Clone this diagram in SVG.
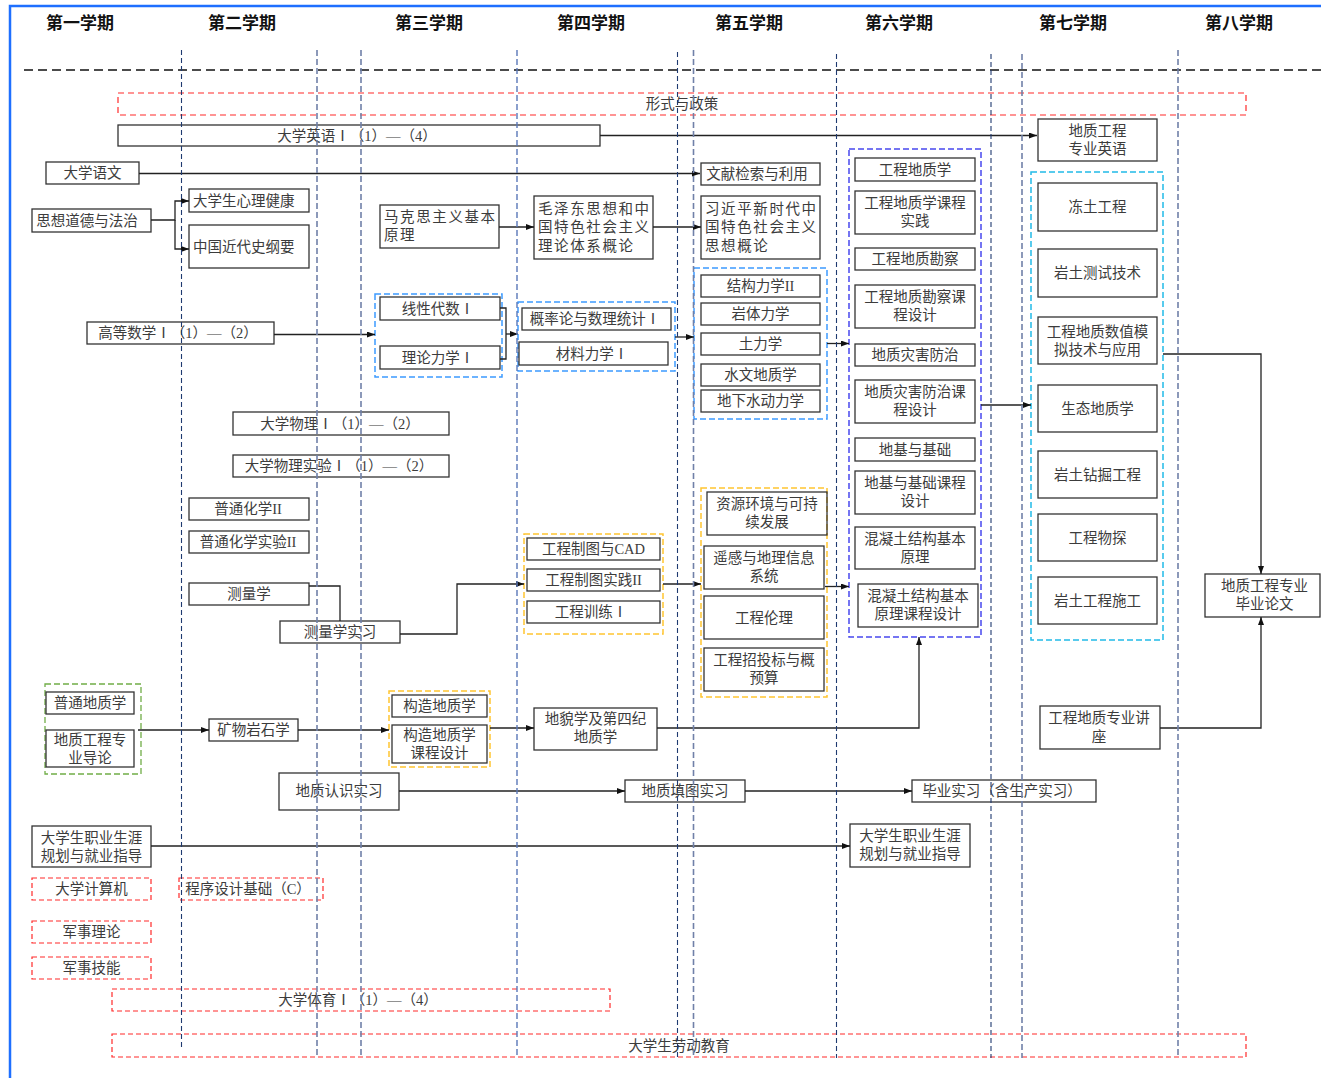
<svg xmlns="http://www.w3.org/2000/svg" width="1321" height="1078" viewBox="0 0 1321 1078">
<defs>
<marker id="arr" markerWidth="8" markerHeight="6" refX="8" refY="3" orient="auto" markerUnits="userSpaceOnUse">
<path d="M0,0 L8,3 L0,6 z" fill="#111"/>
</marker>
<style>
.box{fill:none;stroke:#333;stroke-width:1.3}
.red{fill:none;stroke:#ff2a2a;stroke-width:1.2;stroke-dasharray:5,3}
.gb{fill:none;stroke:#3d9bff;stroke-width:1.5;stroke-dasharray:6,3}
.gp{fill:none;stroke:#4848ee;stroke-width:1.5;stroke-dasharray:6,3}
.gc{fill:none;stroke:#22bbe8;stroke-width:1.5;stroke-dasharray:6,3}
.gy{fill:none;stroke:#ffc530;stroke-width:1.5;stroke-dasharray:6,3}
.gg{fill:none;stroke:#70ad47;stroke-width:1.3;stroke-dasharray:6,3}
.t{font-family:"Liberation Serif","Noto Sans CJK SC",serif;font-size:14.5px;fill:#3c3c3c;text-anchor:middle;dominant-baseline:central}
.ts{font-family:"Liberation Serif","Noto Sans CJK SC",serif;font-size:14.5px;fill:#3c3c3c;text-anchor:start;dominant-baseline:central}
.tj{font-family:"Liberation Serif","Noto Sans CJK SC",serif;font-size:14.5px;fill:#3c3c3c;text-anchor:start;dominant-baseline:central;letter-spacing:1.6px}
.hdr{font-family:"Noto Sans CJK SC",sans-serif;font-size:17px;font-weight:bold;fill:#111;text-anchor:middle;dominant-baseline:central}
.c{fill:none;stroke:#222;stroke-width:1.3}
.ca{fill:none;stroke:#222;stroke-width:1.3;marker-end:url(#arr)}
.vn{stroke:#1f3a70;stroke-width:1.1;stroke-dasharray:5,3}
.vg{stroke:#7080a8;stroke-width:1.6;stroke-dasharray:6,3}
.vb{stroke:#5a78b8;stroke-width:1.4;stroke-dasharray:6,3}
</style>
</defs>
<rect x="0" y="0" width="1321" height="1078" fill="#fff"/>
<!-- frame -->
<path d="M10,1078 V6 H1321" fill="none" stroke="#1e6fff" stroke-width="2.5"/>
<!-- headers -->
<g id="headers">
<text class="hdr" x="80" y="21">第一学期</text>
<text class="hdr" x="242" y="21">第二学期</text>
<text class="hdr" x="429" y="21">第三学期</text>
<text class="hdr" x="591" y="21">第四学期</text>
<text class="hdr" x="749" y="21">第五学期</text>
<text class="hdr" x="899" y="21">第六学期</text>
<text class="hdr" x="1073" y="21">第七学期</text>
<text class="hdr" x="1239" y="21">第八学期</text>
</g>
<line x1="24" y1="70" x2="1321" y2="70" stroke="#111" stroke-width="1.3" stroke-dasharray="9,5"/>

<!-- groups (dashed frames) -->
<g id="g_xiandai"><rect class="gb" x="375" y="294" width="127" height="83"/></g>
<g id="g_gailv"><rect class="gb" x="518" y="302" width="157" height="69"/></g>
<g id="g_jiegou"><rect class="gb" x="694" y="268" width="133" height="151"/></g>
<g id="g_six"><rect class="gp" x="849" y="149" width="132" height="488"/></g>
<g id="g_seven"><rect class="gc" x="1031" y="172" width="132" height="468"/></g>
<g id="g_zhitu"><rect class="gy" x="524" y="534" width="139" height="100"/></g>
<g id="g_ziyuan"><rect class="gy" x="701" y="488" width="126" height="209"/></g>
<g id="g_green"><rect class="gg" x="45" y="684" width="96" height="90"/></g>
<g id="g_gouzao"><rect class="gy" x="389" y="691" width="101" height="76"/></g>

<!-- nodes -->
<g id="n_xingshi"><rect class="red" x="118" y="93" width="1128" height="22" style="stroke-dasharray:6,4"/><text class="t" x="682" y="104">形式与政策</text></g>
<g id="n_english"><rect class="box" x="118" y="125" width="482" height="21"/><text class="t" x="357" y="135.5">大学英语Ⅰ（1）—（4）</text></g>
<g id="n_eng_prof"><rect class="box" x="1038" y="119" width="119" height="42"/><text class="t" x="1097.5" y="131">地质工程</text><text class="t" x="1097.5" y="149">专业英语</text></g>
<g id="n_yuwen"><rect class="box" x="46" y="162" width="93" height="22"/><text class="t" x="92.5" y="173">大学语文</text></g>
<g id="n_wenxian"><rect class="box" x="701" y="163" width="119" height="22"/><text class="t" x="757" y="174">文献检索与利用</text></g>
<g id="n_sixiang"><rect class="box" x="32" y="209" width="119" height="23"/><text class="t" x="87" y="220.5">思想道德与法治</text></g>
<g id="n_xinli"><rect class="box" x="189" y="189" width="120" height="23"/><text class="ts" x="193" y="200.5">大学生心理健康</text></g>
<g id="n_jindai"><rect class="box" x="189" y="225" width="120" height="43"/><text class="ts" x="193" y="246.5">中国近代史纲要</text></g>
<g id="n_makesi"><rect class="box" x="380" y="205" width="119" height="43"/><text class="tj" x="384" y="216.5">马克思主义基本</text><text class="tj" x="384" y="235">原理</text></g>
<g id="n_maozedong"><rect class="box" x="534" y="196" width="119" height="63"/><text class="tj" x="538" y="208.5">毛泽东思想和中</text><text class="tj" x="538" y="227">国特色社会主义</text><text class="tj" x="538" y="245.5">理论体系概论</text></g>
<g id="n_xijinping"><rect class="box" x="701" y="196" width="119" height="63"/><text class="tj" x="705" y="208.5">习近平新时代中</text><text class="tj" x="705" y="227">国特色社会主义</text><text class="tj" x="705" y="245.5">思想概论</text></g>
<g id="n_gaoshu"><rect class="box" x="87" y="322" width="187" height="22"/><text class="t" x="178" y="333">高等数学Ⅰ（1）—（2）</text></g>
<g id="n_xiandai"><rect class="box" x="380" y="297" width="120" height="23"/><text class="t" x="438" y="308.5">线性代数Ⅰ</text></g>
<g id="n_lilun"><rect class="box" x="380" y="346" width="120" height="23"/><text class="t" x="438" y="357.5">理论力学Ⅰ</text></g>
<g id="n_gailv"><rect class="box" x="522" y="308" width="149" height="22"/><text class="t" x="595" y="319">概率论与数理统计Ⅰ</text></g>
<g id="n_cailiao"><rect class="box" x="519" y="342" width="149" height="23"/><text class="t" x="592" y="353.5">材料力学Ⅰ</text></g>
<g id="n_jiegou"><rect class="box" x="701" y="275" width="119" height="22"/><text class="t" x="760.5" y="286">结构力学II</text></g>
<g id="n_yanti"><rect class="box" x="701" y="303" width="119" height="22"/><text class="t" x="760.5" y="314">岩体力学</text></g>
<g id="n_tuli"><rect class="box" x="701" y="333" width="119" height="22"/><text class="t" x="760.5" y="344">土力学</text></g>
<g id="n_shuiwen"><rect class="box" x="701" y="364" width="119" height="22"/><text class="t" x="760.5" y="375">水文地质学</text></g>
<g id="n_dixiashui"><rect class="box" x="701" y="390" width="119" height="22"/><text class="t" x="760.5" y="401">地下水动力学</text></g>
<g id="n_gcdz"><rect class="box" x="855" y="158" width="120" height="23"/><text class="t" x="915" y="169.5">工程地质学</text></g>
<g id="n_gcdzsj"><rect class="box" x="855" y="191" width="120" height="43"/><text class="t" x="915" y="203">工程地质学课程</text><text class="t" x="915" y="220.5">实践</text></g>
<g id="n_kancha"><rect class="box" x="855" y="248" width="120" height="22"/><text class="t" x="915" y="259">工程地质勘察</text></g>
<g id="n_kanchasj"><rect class="box" x="855" y="285" width="120" height="43"/><text class="t" x="915" y="296.5">工程地质勘察课</text><text class="t" x="915" y="314.5">程设计</text></g>
<g id="n_zaihai"><rect class="box" x="855" y="344" width="120" height="22"/><text class="t" x="915" y="355">地质灾害防治</text></g>
<g id="n_zaihaisj"><rect class="box" x="855" y="380" width="120" height="43"/><text class="t" x="915" y="392">地质灾害防治课</text><text class="t" x="915" y="410">程设计</text></g>
<g id="n_diji"><rect class="box" x="855" y="438" width="120" height="23"/><text class="t" x="915" y="449.5">地基与基础</text></g>
<g id="n_dijisj"><rect class="box" x="855" y="471" width="120" height="43"/><text class="t" x="915" y="482.5">地基与基础课程</text><text class="t" x="915" y="500.5">设计</text></g>
<g id="n_hunning"><rect class="box" x="855" y="527" width="120" height="42"/><text class="t" x="915" y="538.5">混凝土结构基本</text><text class="t" x="915" y="556.5">原理</text></g>
<g id="n_hunningsj"><rect class="box" x="858" y="584" width="120" height="43"/><text class="t" x="918" y="595.5">混凝土结构基本</text><text class="t" x="918" y="613.5">原理课程设计</text></g>
<g id="n_dongtu"><rect class="box" x="1038" y="183" width="119" height="48"/><text class="t" x="1097.5" y="207">冻土工程</text></g>
<g id="n_yantu_test"><rect class="box" x="1038" y="249" width="119" height="48"/><text class="t" x="1097.5" y="273">岩土测试技术</text></g>
<g id="n_shuzhi"><rect class="box" x="1038" y="317" width="119" height="47"/><text class="t" x="1097.5" y="332">工程地质数值模</text><text class="t" x="1097.5" y="349.5">拟技术与应用</text></g>
<g id="n_shengtai"><rect class="box" x="1038" y="385" width="119" height="47"/><text class="t" x="1097.5" y="408.5">生态地质学</text></g>
<g id="n_zuanjue"><rect class="box" x="1038" y="451" width="119" height="47"/><text class="t" x="1097.5" y="474.5">岩土钻掘工程</text></g>
<g id="n_wutan"><rect class="box" x="1038" y="514" width="119" height="47"/><text class="t" x="1097.5" y="537.5">工程物探</text></g>
<g id="n_shigong"><rect class="box" x="1038" y="577" width="119" height="47"/><text class="t" x="1097.5" y="600.5">岩土工程施工</text></g>
<g id="n_lunwen"><rect class="box" x="1205" y="574" width="115" height="43"/><text class="t" x="1264.5" y="586">地质工程专业</text><text class="t" x="1264.5" y="604">毕业论文</text></g>
<g id="n_jiangzuo"><rect class="box" x="1040" y="706" width="120" height="43"/><text class="t" x="1099" y="718">工程地质专业讲</text><text class="t" x="1099" y="736.5">座</text></g>
<g id="n_wuli"><rect class="box" x="233" y="412" width="216" height="23"/><text class="t" x="340" y="423.5">大学物理Ⅰ（1）—（2）</text></g>
<g id="n_wulisy"><rect class="box" x="233" y="455" width="216" height="22"/><text class="t" x="339" y="466">大学物理实验Ⅰ（1）—（2）</text></g>
<g id="n_huaxue"><rect class="box" x="189" y="498" width="120" height="22"/><text class="t" x="248" y="509">普通化学II</text></g>
<g id="n_huaxuesy"><rect class="box" x="189" y="531" width="120" height="22"/><text class="t" x="248" y="542">普通化学实验II</text></g>
<g id="n_celiang"><rect class="box" x="189" y="583" width="120" height="22"/><text class="t" x="249" y="594">测量学</text></g>
<g id="n_celiangsx"><rect class="box" x="280" y="621" width="120" height="22"/><text class="t" x="340" y="632">测量学实习</text></g>
<g id="n_cad"><rect class="box" x="527" y="538" width="133" height="22"/><text class="t" x="593.5" y="549">工程制图与CAD</text></g>
<g id="n_zhitusj"><rect class="box" x="527" y="569" width="133" height="22"/><text class="t" x="593.5" y="580">工程制图实践II</text></g>
<g id="n_xunlian"><rect class="box" x="527" y="601" width="133" height="22"/><text class="t" x="591" y="612">工程训练Ⅰ</text></g>
<g id="n_ziyuan"><rect class="box" x="707" y="492" width="120" height="43"/><text class="t" x="767" y="504">资源环境与可持</text><text class="t" x="767" y="522">续发展</text></g>
<g id="n_yaogan"><rect class="box" x="704" y="546" width="120" height="43"/><text class="t" x="764" y="557.5">遥感与地理信息</text><text class="t" x="764" y="575.5">系统</text></g>
<g id="n_lunli"><rect class="box" x="704" y="596" width="120" height="43"/><text class="t" x="764" y="617.5">工程伦理</text></g>
<g id="n_zhaotou"><rect class="box" x="704" y="648" width="120" height="43"/><text class="t" x="764" y="660">工程招投标与概</text><text class="t" x="764" y="678">预算</text></g>
<g id="n_putong"><rect class="box" x="46" y="692" width="88" height="22"/><text class="t" x="90" y="703">普通地质学</text></g>
<g id="n_daolun"><rect class="box" x="46" y="730" width="88" height="37"/><text class="t" x="90" y="740">地质工程专</text><text class="t" x="90" y="757.5">业导论</text></g>
<g id="n_kuangwu"><rect class="box" x="209" y="719" width="89" height="22"/><text class="t" x="253.5" y="730">矿物岩石学</text></g>
<g id="n_gouzao"><rect class="box" x="392" y="695" width="95" height="22"/><text class="t" x="439.5" y="706">构造地质学</text></g>
<g id="n_gouzaosj"><rect class="box" x="392" y="725" width="95" height="38"/><text class="t" x="439.5" y="735">构造地质学</text><text class="t" x="439.5" y="752.5">课程设计</text></g>
<g id="n_dimao"><rect class="box" x="534" y="708" width="123" height="42"/><text class="t" x="595.5" y="719">地貌学及第四纪</text><text class="t" x="595.5" y="737">地质学</text></g>
<g id="n_renshi"><rect class="box" x="279" y="773" width="120" height="37"/><text class="t" x="339" y="791">地质认识实习</text></g>
<g id="n_tiantu"><rect class="box" x="625" y="780" width="120" height="22"/><text class="t" x="685" y="791">地质填图实习</text></g>
<g id="n_biye"><rect class="box" x="912" y="780" width="184" height="22"/><text class="t" x="1002" y="791">毕业实习（含生产实习）</text></g>
<g id="n_zhiye1"><rect class="box" x="32" y="826" width="119" height="41"/><text class="t" x="91.5" y="838">大学生职业生涯</text><text class="t" x="91.5" y="855.5">规划与就业指导</text></g>
<g id="n_zhiye2"><rect class="box" x="850" y="824" width="120" height="43"/><text class="t" x="910" y="836">大学生职业生涯</text><text class="t" x="910" y="854">规划与就业指导</text></g>
<g id="n_jisuanji"><rect class="red" x="32" y="878" width="119" height="22"/><text class="t" x="91.5" y="889">大学计算机</text></g>
<g id="n_chengxu"><rect class="red" x="179" y="878" width="144" height="22"/><text class="t" x="248" y="889">程序设计基础（C）</text></g>
<g id="n_junshi_ll"><rect class="red" x="32" y="921" width="119" height="22"/><text class="t" x="91.5" y="932">军事理论</text></g>
<g id="n_junshi_jn"><rect class="red" x="32" y="957" width="119" height="22"/><text class="t" x="91.5" y="968">军事技能</text></g>
<g id="n_tiyu"><rect class="red" x="112" y="989" width="498" height="22"/><text class="t" x="358" y="1000">大学体育Ⅰ（1）—（4）</text></g>
<g id="n_laodong"><rect class="red" x="112" y="1034" width="1134" height="23"/><text class="t" x="679" y="1045.5">大学生劳动教育</text></g>

<!-- connectors -->
<g id="connectors">
<path class="ca" d="M600,135.5 H1037"/>
<path class="ca" d="M139,173.5 H700"/>
<path class="ca" d="M151,220 H175 V201 H189"/>
<path class="ca" d="M175,220 V249 H189"/>
<path class="ca" d="M499,227 H534"/>
<path class="ca" d="M653,227 H701"/>
<path class="ca" d="M274,334.5 H375"/>
<path class="c" d="M500,308 H506 V359 H500"/>
<path class="ca" d="M506,334 H518"/>
<path class="ca" d="M675,337 H694"/>
<path class="ca" d="M827,343.5 H849"/>
<path class="c" d="M309,586 H340 V621"/>
<path class="ca" d="M400,634 H457 V584 H524"/>
<path class="ca" d="M663,584 H701"/>
<path class="ca" d="M825,586.5 H849"/>
<path class="ca" d="M981,405 H1031"/>
<path class="ca" d="M1163,354 H1261 V574"/>
<path class="ca" d="M1160,728 H1261 V617"/>
<path class="ca" d="M138,730 H209"/>
<path class="ca" d="M298,730 H389"/>
<path class="ca" d="M490,728 H534"/>
<path class="ca" d="M657,728 H919 V637"/>
<path class="ca" d="M399,791 H625"/>
<path class="ca" d="M745,791 H912"/>
<path class="ca" d="M151,846 H850"/>
</g>

<!-- semester divider dashed lines -->
<g id="dividers">
<line class="vn" x1="181.5" y1="50" x2="181.5" y2="1048"/>
<line class="vg" x1="317" y1="50" x2="317" y2="1058"/>
<line class="vg" x1="361" y1="50" x2="361" y2="1058"/>
<line class="vb" x1="517" y1="50" x2="517" y2="1058"/>
<line class="vn" x1="677.5" y1="52" x2="677.5" y2="1058"/>
<line class="vg" x1="693.5" y1="50" x2="693.5" y2="1058"/>
<line class="vn" x1="836.5" y1="54" x2="836.5" y2="1058"/>
<line class="vn" x1="991" y1="54" x2="991" y2="1058"/>
<line class="vg" x1="1022" y1="54" x2="1022" y2="1058"/>
<line class="vg" x1="1178" y1="50" x2="1178" y2="1058"/>
</g>
</svg>
